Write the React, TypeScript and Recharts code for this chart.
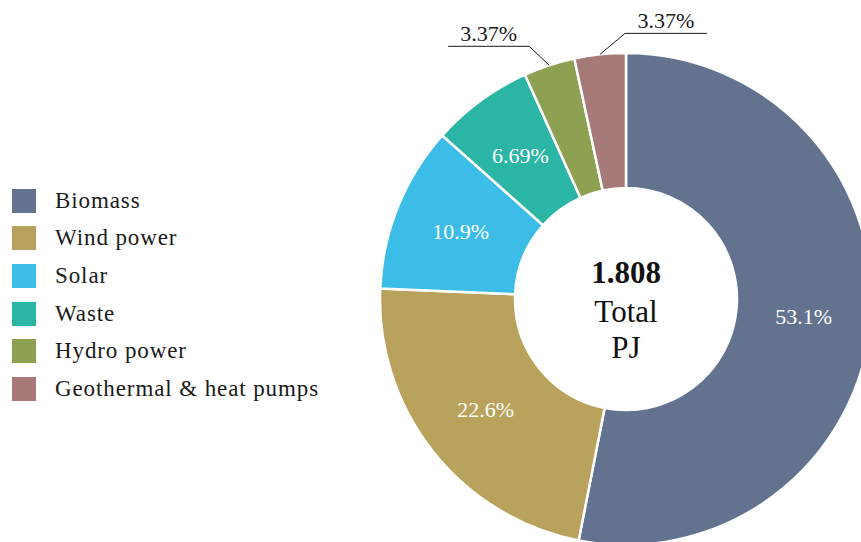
import { PieChart, Pie, Cell, Legend } from 'recharts'

// Renewable energy sources, share of total (%)
const sources = ['Biomass', 'Wind power', 'Solar', 'Waste', 'Hydro power', 'Geothermal & heat pumps']
const shares = [53.1, 22.6, 10.9, 6.69, 3.37, 3.37]
const shareLabels = ['53.1%', '22.6%', '10.9%', '6.69%', '3.37%', '3.37%']
const totalValue = '1.808'
const totalUnit = ['Total', 'PJ']

const colors = ['#63738f', '#b9a25b', '#3bbde7', '#2ab5a4', '#8ea153', '#a57a79']

// leader line styling for the small slices that get an outside label
const leaders: Record<string, { dx: number; dy: number; len: number }> = {
  'Hydro power': { dx: -20, dy: -19, len: -81 },
  'Geothermal & heat pumps': { dx: 25, dy: -21, len: 82 },
}

const FONT = '"Liberation Serif", "Times New Roman", serif'
const RADIAN = Math.PI / 180
const CX = 626
const CY = 299

const chartData = sources.map((name, i) => ({ name, value: shares[i], label: shareLabels[i] }))

function renderLabel(props: any) {
  const { cx, cy, midAngle, innerRadius, outerRadius, index } = props
  const d = chartData[index]
  const leader = leaders[d.name]
  if (!leader) {
    const r = (innerRadius + outerRadius) / 2
    const x = cx + r * Math.cos(-midAngle * RADIAN)
    const y = cy + r * Math.sin(-midAngle * RADIAN)
    return (
      <text x={x} y={y} fill="#ffffff" fontSize={22} fontFamily={FONT} textAnchor="middle" dominantBaseline="central">
        {d.label}
      </text>
    )
  }
  const ax = cx + outerRadius * Math.cos(-midAngle * RADIAN)
  const ay = cy + outerRadius * Math.sin(-midAngle * RADIAN)
  const ex = ax + leader.dx
  const ey = ay + leader.dy
  const hx = ex + leader.len
  return (
    <g>
      <polyline points={`${ax},${ay} ${ex},${ey} ${hx},${ey}`} fill="none" stroke="#1a1a1a" strokeWidth={1} />
      <text x={(ex + hx) / 2} y={ey - 5} fill="#1a1a1a" fontSize={22} fontFamily={FONT} textAnchor="middle">
        {d.label}
      </text>
    </g>
  )
}

function renderLegend() {
  return (
    <div style={{ fontFamily: FONT, fontSize: 23, letterSpacing: 0.9, color: '#1a1a1a' }}>
      {sources.map((s, i) => (
        <div key={s} style={{ display: 'flex', alignItems: 'center', height: 37.6 }}>
          <span style={{ width: 24, height: 24, background: colors[i], display: 'inline-block', marginRight: 19, flexShrink: 0 }} />
          <span>{s}</span>
        </div>
      ))}
    </div>
  )
}

export default function App() {
  return (
    <div style={{ position: 'absolute', left: 0, top: 0, width: 861, height: 542, background: '#fff' }}>
      <PieChart width={861} height={542} margin={{ top: 0, right: 0, bottom: 0, left: 0 }}>
        <Legend
          content={renderLegend}
          layout="vertical"
          wrapperStyle={{ position: 'absolute', left: 12, top: 182, width: 340 }}
        />
        <Pie
          data={chartData}
          dataKey="value"
          nameKey="name"
          cx={CX}
          cy={CY}
          innerRadius={111}
          outerRadius={246}
          startAngle={90}
          endAngle={-270}
          stroke="#ffffff"
          strokeWidth={2.5}
          label={renderLabel}
          labelLine={false}
          isAnimationActive={false}
        >
          {chartData.map((d, i) => (
            <Cell key={d.name} fill={colors[i]} />
          ))}
        </Pie>
        <g fontFamily={FONT} fill="#111" textAnchor="middle">
          <text x={CX} y={CY - 16} fontSize={31} fontWeight="bold">{totalValue}</text>
          <text x={CX} y={CY + 23} fontSize={31}>{totalUnit[0]}</text>
          <text x={CX} y={CY + 59} fontSize={31}>{totalUnit[1]}</text>
        </g>
      </PieChart>
    </div>
  )
}
